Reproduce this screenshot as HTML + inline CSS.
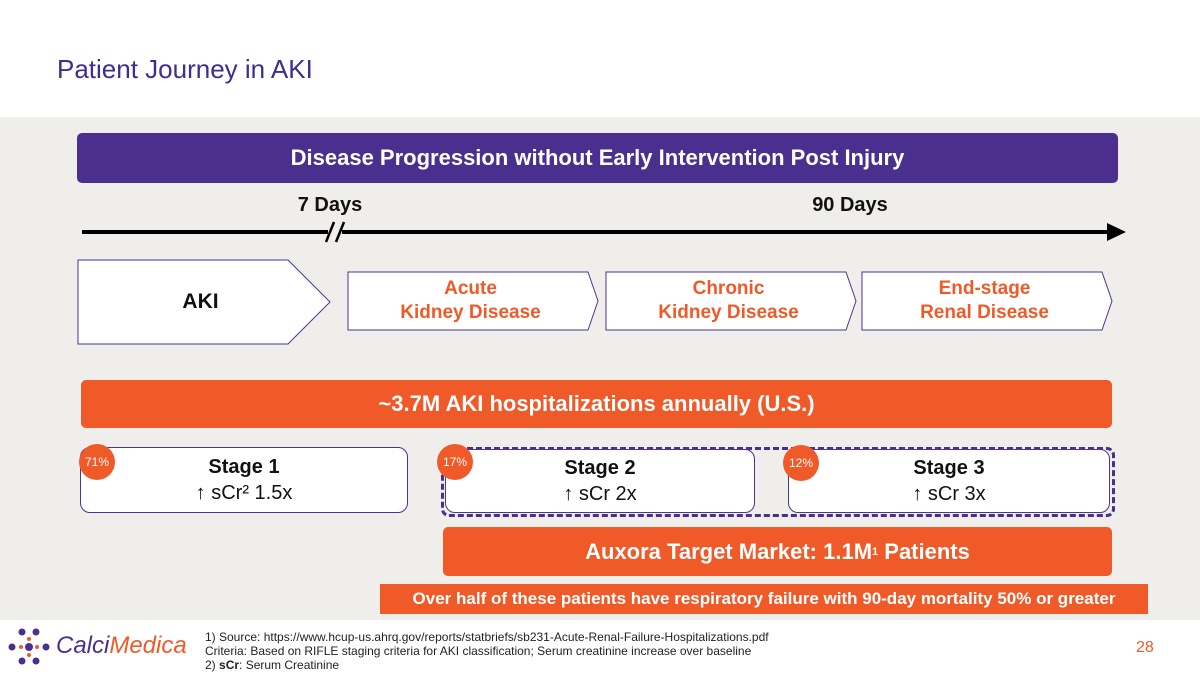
<!DOCTYPE html>
<html><head><meta charset="utf-8"><style>
body{margin:0;width:1200px;height:675px;position:relative;background:#fff;font-family:"Liberation Sans",sans-serif;overflow:hidden}
.a{position:absolute}
.c{display:flex;align-items:center;justify-content:center;text-align:center}
.circ{position:absolute;width:36px;height:36px;border-radius:50%;background:#f05a28;color:#fff;font-size:12px;display:flex;align-items:center;justify-content:center}
.stage{position:absolute;background:#fff;border:1.5px solid #4a3590;border-radius:10px;font-size:20px;color:#111;line-height:26px}
.chev{color:#f05a28;font-size:19px;font-weight:bold;line-height:24px}
</style></head><body>
<div class="a" style="left:57px;top:54px;font-size:26px;color:#3f2d8f">Patient Journey in AKI</div>
<div class="a" style="left:0;top:117px;width:1200px;height:503px;background:#efeeea"></div>
<div class="a c" style="left:77px;top:133px;width:1041px;height:50px;background:#4a2f8f;border-radius:5px;color:#fff;font-size:22px;font-weight:bold">Disease Progression without Early Intervention Post Injury</div>
<div class="a" style="left:290px;top:194px;width:80px;text-align:center;font-size:20px;font-weight:bold;color:#111">7 Days</div>
<div class="a" style="left:800px;top:194px;width:100px;text-align:center;font-size:20px;font-weight:bold;color:#111">90 Days</div>
<svg class="a" style="left:0;top:215px" width="1200" height="35">
<line x1="82" y1="17" x2="1110" y2="17" stroke="#000" stroke-width="4"/>
<polygon points="1107,8 1126,17 1107,26" fill="#000"/>
<rect x="328" y="8" width="14" height="18" fill="#efeeea"/>
<line x1="326" y1="27" x2="334" y2="7" stroke="#000" stroke-width="2.5"/>
<line x1="336" y1="27" x2="344" y2="7" stroke="#000" stroke-width="2.5"/>
</svg>
<svg class="a" style="left:0;top:255px" width="1200" height="95">
<polygon points="78,5 288,5 330,47 288,89 78,89" fill="#fff" stroke="#4a3590" stroke-width="1"/>
<polygon points="348,17 588,17 598,46 588,75 348,75" fill="#fff" stroke="#4a3590" stroke-width="1"/>
<polygon points="606,17 846,17 856,46 846,75 606,75" fill="#fff" stroke="#4a3590" stroke-width="1"/>
<polygon points="862,17 1102,17 1112,46 1102,75 862,75" fill="#fff" stroke="#4a3590" stroke-width="1"/>
</svg>
<div class="a c" style="left:78px;top:260px;width:245px;height:84px;font-size:21px;font-weight:bold;color:#111">AKI</div>
<div class="a c chev" style="left:348px;top:272px;width:245px;height:58px">Acute<br>Kidney Disease</div>
<div class="a c chev" style="left:606px;top:272px;width:245px;height:58px">Chronic<br>Kidney Disease</div>
<div class="a c chev" style="left:862px;top:272px;width:245px;height:58px">End-stage<br>Renal Disease</div>
<div class="a c" style="left:81px;top:380px;width:1031px;height:48px;background:#f05a28;border-radius:5px;color:#fff;font-size:22px;font-weight:bold">~3.7M AKI hospitalizations annually (U.S.)</div>
<div class="a" style="left:441px;top:447px;width:668px;height:64px;border:3px dashed #4a2f8f;border-radius:8px"></div>
<div class="stage c" style="left:80px;top:447px;width:326px;height:64px"><div><b>Stage 1</b><br>↑ sCr² 1.5x</div></div>
<div class="stage c" style="left:445px;top:449px;width:308px;height:62px"><div><b>Stage 2</b><br>↑ sCr 2x</div></div>
<div class="stage c" style="left:788px;top:449px;width:320px;height:62px"><div><b>Stage 3</b><br>↑ sCr 3x</div></div>
<div class="circ" style="left:79px;top:444px">71%</div>
<div class="circ" style="left:437px;top:444px">17%</div>
<div class="circ" style="left:783px;top:445px">12%</div>
<div class="a c" style="left:443px;top:527px;width:669px;height:49px;background:#f05a28;border-radius:5px;color:#fff;font-size:22px;font-weight:bold">Auxora Target Market: 1.1M<sup style="font-size:11px">1</sup>&nbsp;Patients</div>
<div class="a c" style="left:380px;top:584px;width:768px;height:30px;background:#f05a28;color:#fff;font-size:17px;font-weight:bold">Over half of these patients have respiratory failure with 90-day mortality 50% or greater</div>
<svg class="a" style="left:8px;top:628px" width="44" height="38">
<g fill="#4a2f8f"><circle cx="14" cy="4" r="3.5"/><circle cx="28" cy="4" r="3.5"/><circle cx="14" cy="33" r="3.5"/><circle cx="28" cy="33" r="3.5"/><circle cx="4" cy="19" r="3.5"/><circle cx="38" cy="19" r="3.5"/><circle cx="21" cy="19" r="4"/></g>
<g fill="#f05a28"><circle cx="13" cy="19" r="2"/><circle cx="29" cy="19" r="2"/><circle cx="21" cy="11" r="2"/><circle cx="21" cy="27" r="2"/></g>
</svg>
<div class="a" style="left:56px;top:632px;font-size:24px;font-style:italic"><span style="color:#4a2f8f">Calci</span><span style="color:#f05a28">Medica</span></div>
<div class="a" style="left:205px;top:630px;font-size:12px;line-height:14px;color:#222">1) Source: https://www.hcup-us.ahrq.gov/reports/statbriefs/sb231-Acute-Renal-Failure-Hospitalizations.pdf<br>Criteria: Based on RIFLE staging criteria for AKI classification; Serum creatinine increase over baseline<br>2) <b>sCr</b>: Serum Creatinine</div>
<div class="a" style="left:1136px;top:639px;font-size:16px;color:#f05a28">28</div>
</body></html>
